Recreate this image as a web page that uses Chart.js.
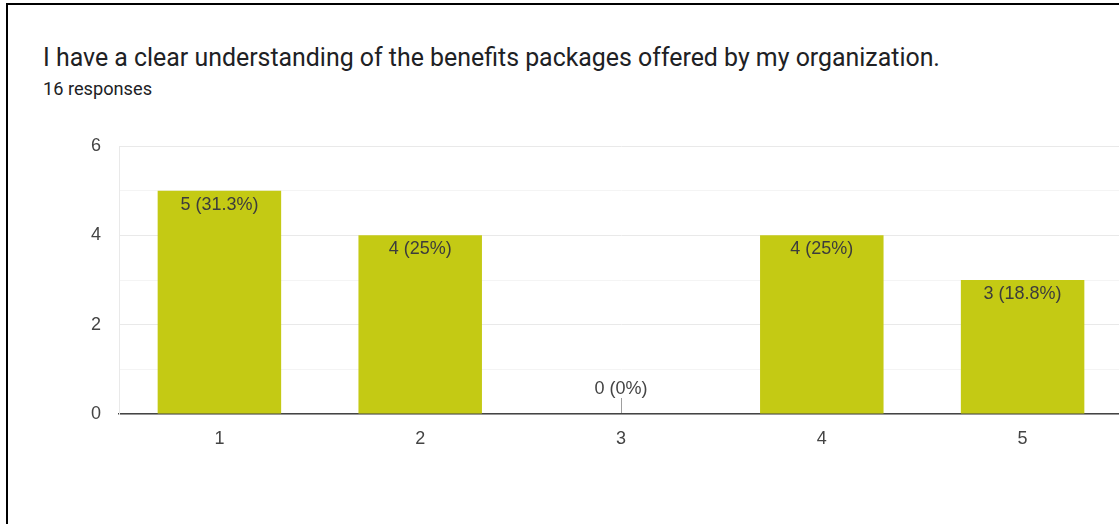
<!DOCTYPE html>
<html>
<head>
<meta charset="utf-8">
<script src="https://cdn.jsdelivr.net/npm/chart.js@4/dist/chart.umd.min.js"></script>
<style>
  html, body { margin: 0; padding: 0; background: #fff; overflow: hidden; }
  body { width: 1119px; height: 524px; position: relative; }
  .frame { position: absolute; left: 6px; top: 3px; right: -10px; bottom: -10px;
           border-left: 2.5px solid #000; border-top: 2.5px solid #000; }
  .title { position: absolute; left: 43px; top: 43px; font-family: Roboto, sans-serif;
           font-size: 24.9px; line-height: 30px; color: #202124; white-space: nowrap; }
  .sub { position: absolute; left: 43px; top: 78px; font-family: Roboto, sans-serif;
         font-size: 18.2px; line-height: 22px; color: #202124; white-space: nowrap; }
  .wrap { position: absolute; left: 0; top: 0; width: 1130px; height: 524px; }
</style>
</head>
<body>
<div class="frame"></div>
<div class="title">I have a clear understanding of the benefits packages offered by my organization.</div>
<div class="sub">16 responses</div>
<div class="wrap"><canvas id="chart"></canvas></div>
<script>
const categories = ['1', '2', '3', '4', '5'];
const counts = [5, 4, 0, 4, 3];
const totalResponses = 16;
const yTicks = [0, 2, 4, 6];

const labelFont = '18px "Liberation Sans", Arial, sans-serif';

// value labels "n (p%)" inside the top of each bar; zero bars get a stub line
const barLabels = {
    id: 'barLabels',
    afterDatasetsDraw(chart) {
        const ctx = chart.ctx;
        const meta = chart.getDatasetMeta(0);
        const base = chart.scales.y.getPixelForValue(0);
        ctx.save();
        ctx.font = labelFont;
        ctx.textAlign = 'center';
        ctx.textBaseline = 'alphabetic';
        meta.data.forEach((bar, i) => {
            const v = counts[i];
            const pct = Math.round(v / totalResponses * 1000) / 10;
            const text = `${v} (${pct}%)`;
            if (v === 0) {
                ctx.strokeStyle = '#9e9e9e';
                ctx.lineWidth = 1;
                ctx.beginPath();
                ctx.moveTo(Math.round(bar.x) + 0.5, base - 1);
                ctx.lineTo(Math.round(bar.x) + 0.5, base - 16);
                ctx.stroke();
                ctx.fillStyle = '#444';
                ctx.fillText(text, bar.x, base - 20);
            } else {
                ctx.fillStyle = '#3c3c3c';
                ctx.fillText(text, bar.x, bar.y + 19);
            }
        });
        ctx.restore();
    }
};

new Chart(document.getElementById('chart'), {
    type: 'bar',
    data: {
        labels: categories,
        datasets: [{
            data: counts,
            backgroundColor: '#c4ca14',
            barPercentage: 0.615,
            categoryPercentage: 1
        }]
    },
    options: {
        responsive: true,
        maintainAspectRatio: false,
        animation: false,
        layout: { padding: { left: 0, top: 146, right: 7, bottom: 0 } },
        plugins: { legend: { display: false }, tooltip: { enabled: false } },
        scales: {
            x: {
                grid: { display: false, drawTicks: false },
                border: { color: '#444', width: 1.6 },
                ticks: { color: '#444', padding: 14, font: { family: '"Liberation Sans", Arial, sans-serif', size: 18 } },
                afterFit(scale) { scale.height = 110; }
            },
            y: {
                min: 0,
                max: 6,
                grid: {
                    drawTicks: false,
                    color: c => (c.tick.value % 2 ? '#f4f4f4' : '#e9e9e9')
                },
                border: { color: '#e9e9e9' },
                ticks: {
                    stepSize: 1,
                    color: '#444',
                    padding: 18,
                    font: { family: '"Liberation Sans", Arial, sans-serif', size: 18 },
                    callback: v => (yTicks.includes(v) ? String(v) : '')
                },
                afterFit(scale) { scale.width = 119; }
            }
        }
    },
    plugins: [barLabels]
});
</script>
</body>
</html>
